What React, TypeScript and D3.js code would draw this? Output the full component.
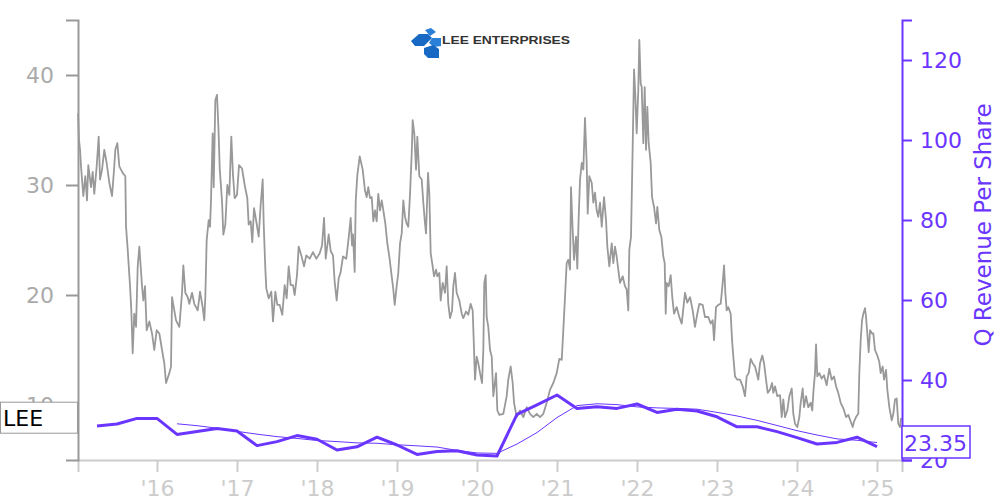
import React, { useEffect, useRef } from "react";
import * as d3 from "d3";

// Daily close (sampled) — [decimal year, price]
const priceSeries: [number, number][] = [
  [2015.013,36.5],[2015.025,34.1],[2015.038,33.2],[2015.05,31.7],[2015.079,29],[2015.104,30.8],[2015.125,28.6],[2015.141,31.8],[2015.175,29.8],[2015.196,31.2],[2015.216,29.2],[2015.246,31.7],[2015.271,34.4],[2015.288,30.5],[2015.313,31.4],[2015.341,33.2],[2015.371,32],[2015.404,30.2],[2015.438,29],[2015.466,31.7],[2015.479,33.2],[2015.504,33.8],[2015.529,31.7],[2015.571,31.1],[2015.604,30.8],[2015.613,26.2],[2015.634,24.1],[2015.663,20.8],[2015.679,18.6],[2015.696,14.7],[2015.716,18.3],[2015.738,17.1],[2015.759,22.6],[2015.779,24.4],[2015.813,20.8],[2015.829,19.5],[2015.85,20.8],[2015.871,16.8],[2015.904,17.6],[2015.938,16.5],[2015.966,15],[2015.996,16.8],
  [2016.029,16.5],[2016.063,15],[2016.091,13.8],[2016.113,12],[2016.154,12.9],[2016.175,13.5],[2016.188,19.8],[2016.216,18.6],[2016.238,17.7],[2016.279,17.1],[2016.313,20.2],[2016.329,22.7],[2016.354,20.2],[2016.384,19.8],[2016.404,19.2],[2016.438,20.2],[2016.466,19.2],[2016.509,18.6],[2016.538,20.3],[2016.571,18.9],[2016.591,17.7],[2016.604,19.8],[2016.621,25],[2016.646,26.8],[2016.663,26.2],[2016.675,28.6],[2016.696,34.7],[2016.709,29.8],[2016.729,37.7],[2016.75,38.2],[2016.769,35],[2016.784,31.5],[2016.813,28.5],[2016.829,25.5],[2016.854,26.4],[2016.879,30],[2016.904,29.1],[2016.929,34.4],[2016.95,30.9],[2016.971,28.8],
  [2017.0,29.1],[2017.025,31.8],[2017.063,31.5],[2017.096,30],[2017.129,28.8],[2017.146,26.4],[2017.171,26.7],[2017.191,24.8],[2017.213,27.9],[2017.241,26.7],[2017.271,25.3],[2017.296,28.2],[2017.321,30.5],[2017.334,26.4],[2017.354,22.4],[2017.366,20.6],[2017.396,19.7],[2017.429,20.3],[2017.45,17.6],[2017.479,20.3],[2017.504,19.1],[2017.534,19.1],[2017.566,18.2],[2017.596,20.9],[2017.621,19.7],[2017.646,22.6],[2017.671,20.9],[2017.7,20.9],[2017.721,20],[2017.75,21.8],[2017.771,24.4],[2017.804,23.6],[2017.838,22.6],[2017.866,23.6],[2017.909,23.3],[2017.95,23.9],[2017.991,23.3],
  [2018.034,23.8],[2018.063,24.5],[2018.088,27],[2018.109,23.3],[2018.146,25.5],[2018.171,24],[2018.2,23.6],[2018.221,21.2],[2018.246,19.5],[2018.271,21.5],[2018.296,22.1],[2018.325,23.5],[2018.366,23.3],[2018.396,25.2],[2018.421,27],[2018.438,24.5],[2018.45,25.5],[2018.471,22.1],[2018.484,28.5],[2018.504,30.9],[2018.534,32.6],[2018.571,31.4],[2018.6,29.5],[2018.621,28.9],[2018.641,29.8],[2018.663,28.8],[2018.684,28.9],[2018.704,26.7],[2018.725,27.7],[2018.746,26.7],[2018.766,29.2],[2018.788,27.7],[2018.809,28.6],[2018.829,27.7],[2018.854,26.5],[2018.879,24.7],[2018.904,23.5],[2018.934,21.7],[2018.954,20.5],[2018.971,19.1],[2018.996,20.8],
  [2019.016,22],[2019.038,24.7],[2019.059,25.6],[2019.079,28.6],[2019.1,27.1],[2019.121,26.5],[2019.141,26.2],[2019.163,29.2],[2019.184,32.9],[2019.196,35.9],[2019.216,34.7],[2019.238,31.4],[2019.254,34.4],[2019.279,30.8],[2019.309,30.5],[2019.329,28.4],[2019.35,26.5],[2019.363,25.6],[2019.388,31.1],[2019.404,29.2],[2019.421,23.8],[2019.446,22.6],[2019.463,21.7],[2019.488,22.3],[2019.504,21.7],[2019.529,22],[2019.546,19.5],[2019.571,21.1],[2019.6,20.2],[2019.621,22.6],[2019.641,19.2],[2019.663,17.9],[2019.688,18.6],[2019.704,20.8],[2019.725,22],[2019.746,20.2],[2019.779,19.5],[2019.809,18.3],[2019.829,17.9],[2019.863,18.5],[2019.891,18.2],[2019.921,19.2],[2019.946,18.6],[2019.963,15],[2019.975,12.3],[2019.996,14.4],
  [2020.016,13.8],[2020.038,12.9],[2020.063,12],[2020.079,15],[2020.091,21.1],[2020.109,21.8],[2020.121,18],[2020.141,17.1],[2020.163,15],[2020.184,14.4],[2020.204,10.8],[2020.238,12.9],[2020.254,9.5],[2020.279,9.1],[2020.329,9.2],[2020.371,10.8],[2020.391,12.3],[2020.421,13.5],[2020.446,12],[2020.463,10.2],[2020.496,8.9],[2020.538,9.5],[2020.579,8.9],[2020.621,9.8],[2020.663,9.2],[2020.704,8.9],[2020.746,9.2],[2020.788,8.9],[2020.829,9.2],[2020.871,10.2],[2020.913,11.4],[2020.954,12],[2020.996,12.9],
  [2021.029,14.2],[2021.059,14.1],[2021.079,16.8],[2021.1,19.8],[2021.121,22.9],[2021.141,23.2],[2021.163,22.3],[2021.175,29.8],[2021.196,25.9],[2021.213,23.2],[2021.238,25.3],[2021.254,22.4],[2021.271,27.1],[2021.288,30.5],[2021.309,32],[2021.329,31.4],[2021.35,36.1],[2021.371,32],[2021.384,27.4],[2021.404,30.8],[2021.434,30.2],[2021.454,28.4],[2021.475,29.3],[2021.496,27.7],[2021.516,27.1],[2021.538,28.4],[2021.559,26.2],[2021.588,28.9],[2021.613,26.8],[2021.629,24.4],[2021.654,22.6],[2021.684,24.7],[2021.704,22.9],[2021.725,24.4],[2021.746,23.5],[2021.766,22.3],[2021.788,21.1],[2021.821,21.7],[2021.85,20.8],[2021.871,20.5],[2021.891,18.6],[2021.904,24.1],[2021.925,25.3],[2021.946,33.5],[2021.963,40.5],[2021.979,38.1],[2021.996,34.7],
  [2022.016,38.6],[2022.029,43.2],[2022.046,39.2],[2022.059,38.9],[2022.079,33.8],[2022.096,38.9],[2022.113,33.2],[2022.129,37.1],[2022.146,33.8],[2022.171,32],[2022.188,28.9],[2022.213,28],[2022.238,26.5],[2022.254,28],[2022.279,25.9],[2022.304,25.3],[2022.329,23.5],[2022.346,22.9],[2022.359,18.3],[2022.371,21.1],[2022.396,20.8],[2022.421,21.8],[2022.441,19.8],[2022.463,18.3],[2022.496,18.9],[2022.529,18],[2022.559,17.4],[2022.6,20.2],[2022.629,19.3],[2022.663,19.8],[2022.696,18.6],[2022.725,17.1],[2022.754,18.3],[2022.779,19.2],[2022.821,19.1],[2022.85,18],[2022.891,18],[2022.921,17.4],[2022.946,17.7],[2022.963,15.9],[2022.988,18.9],
  [2023.016,19.1],[2023.046,19.2],[2023.071,21.1],[2023.088,22.7],[2023.104,20.2],[2023.121,18.6],[2023.141,18.9],[2023.171,18.3],[2023.188,15.9],[2023.204,14.4],[2023.225,12.6],[2023.254,12.3],[2023.288,12.3],[2023.321,11.7],[2023.35,10.8],[2023.371,12.6],[2023.396,12.9],[2023.421,14.2],[2023.446,13.8],[2023.475,13.5],[2023.496,12.9],[2023.516,12.3],[2023.538,13.8],[2023.566,14.5],[2023.588,13.8],[2023.613,12.3],[2023.634,11.1],[2023.663,11.4],[2023.688,12],[2023.704,11.1],[2023.725,11.7],[2023.754,10.8],[2023.788,10.9],[2023.809,8.9],[2023.829,10.5],[2023.85,8.9],[2023.879,9.5],[2023.904,10.8],[2023.934,11.5],[2023.954,9.2],[2023.975,8.3],
  [2024.004,8],[2024.029,8.9],[2024.046,10.2],[2024.071,11.5],[2024.088,9.8],[2024.113,10.8],[2024.141,9.8],[2024.171,10.2],[2024.191,9.5],[2024.204,11.1],[2024.225,12.9],[2024.238,15.5],[2024.254,12.6],[2024.279,12.9],[2024.309,12.4],[2024.338,12.7],[2024.371,11.8],[2024.404,13.3],[2024.434,12.3],[2024.463,12.6],[2024.488,11.7],[2024.516,11.1],[2024.546,10.2],[2024.579,9.7],[2024.613,8.9],[2024.641,9.1],[2024.671,8.5],[2024.696,8],[2024.713,8.5],[2024.738,8.9],[2024.766,9.2],[2024.779,12.9],[2024.796,15.9],[2024.813,17.7],[2024.829,18.3],[2024.85,18.8],[2024.863,18],[2024.879,16.5],[2024.896,14.8],[2024.913,16.8],[2024.938,16.5],[2024.954,16.5],[2024.975,15],
  [2025.004,14.5],[2025.029,13.9],[2025.046,12.9],[2025.071,13.5],[2025.088,12.3],[2025.113,13.2],[2025.129,11.4],[2025.154,9.8],[2025.184,8.6],[2025.204,9.2],[2025.225,10.5],[2025.246,10.6],[2025.266,8.3],[2025.288,8],[2025.3,8.8],
];

// Quarterly revenue per share
const revenueQuarters = [
  2015.25, 2015.5, 2015.75, 2016.0, 2016.25, 2016.5, 2016.75, 2017.0, 2017.25, 2017.5,
  2017.75, 2018.0, 2018.25, 2018.5, 2018.75, 2019.0, 2019.25, 2019.5, 2019.75, 2020.0,
  2020.25, 2020.5, 2020.75, 2021.0, 2021.25, 2021.5, 2021.75, 2022.0, 2022.25, 2022.5,
  2022.75, 2023.0, 2023.25, 2023.5, 2023.75, 2024.0, 2024.25, 2024.5, 2024.75, 2025.0,
];
const revenueValues = [
  28.5, 29.0, 30.4, 30.4, 26.4, 27.1, 27.9, 27.25, 23.6, 24.6,
  26.1, 25.2, 22.5, 23.3, 25.7, 23.75, 21.4, 22.1, 22.3, 21.25,
  21.0, 31.4, 33.8, 36.25, 32.9, 33.3, 32.9, 34.0, 31.9, 32.7,
  32.25, 30.8, 28.3, 28.3, 27.1, 25.6, 24.0, 24.4, 25.7, 23.35,
];
// Trailing four-quarter average (thin line), from 2016.25
const revenueAvgValues = [
  29.05, 28.58, 27.95, 27.16, 26.46, 25.84, 25.39, 24.88, 24.6, 24.28,
  24.18, 23.81, 23.54, 23.24, 22.39, 21.76, 21.66, 23.99, 26.86, 30.61,
  33.59, 34.06, 33.84, 33.28, 33.03, 32.88, 32.71, 31.91, 31.01, 29.91,
  28.63, 27.33, 26.25, 25.28, 24.93, 24.36,
];

const leftTicks = [10, 20, 30, 40];
const rightTicks = [20, 40, 60, 80, 100, 120];
const yearTicks = [2016, 2017, 2018, 2019, 2020, 2021, 2022, 2023, 2024, 2025];
const yearLabels = ["'16", "'17", "'18", "'19", "'20", "'21", "'22", "'23", "'24", "'25"];

const tickerLabel = "LEE";
const lastPrice = 8.8;
const lastRevenueLabel = "23.35";
const lastRevenue = 23.35;

const PURPLE = "#6a35ff";
const FONT = "DejaVu Sans, sans-serif";

export default function App() {
  const ref = useRef<SVGSVGElement | null>(null);

  useEffect(() => {
    const svg = d3.select(ref.current);
    svg.selectAll("*").remove();

    const left = 78, right = 902, top = 20, bottom = 460;
    const x = d3.scaleLinear().domain([2015.0125, 2025.3125]).range([left, right]);
    const yL = d3.scaleLinear().domain([5, 45]).range([bottom, top]);
    const yR = d3.scaleLinear().domain([20, 130]).range([bottom, top]);

    // price line
    const priceLine = d3.line<[number, number]>().x((d) => x(d[0])).y((d) => yL(d[1]));
    svg.append("path").datum(priceSeries).attr("d", priceLine).attr("fill", "none")
      .attr("stroke", "#999").attr("stroke-width", 1.8).attr("stroke-linejoin", "round");

    // revenue lines
    const revLine = d3.line<number>().x((_, i) => x(revenueQuarters[i])).y((d) => yR(d));
    const avgLine = d3.line<number>().x((_, i) => x(revenueQuarters[i + 4])).y((d) => yR(d));
    svg.append("path").datum(revenueAvgValues).attr("d", avgLine).attr("fill", "none")
      .attr("stroke", PURPLE).attr("stroke-width", 1);
    svg.append("path").datum(revenueValues).attr("d", revLine).attr("fill", "none")
      .attr("stroke", PURPLE).attr("stroke-width", 3).attr("stroke-linejoin", "round");

    // x axis
    const gx = svg.append("g").attr("transform", `translate(0,${bottom})`)
      .call(d3.axisBottom(x).tickValues(yearTicks).tickFormat((_, i) => yearLabels[i])
        .tickSize(12).tickSizeOuter(12).tickPadding(8));
    gx.select(".domain").attr("stroke", "#ccc").attr("stroke-width", 2);
    gx.selectAll(".tick line").attr("stroke", "#ccc").attr("stroke-width", 2);
    gx.selectAll(".tick text").attr("fill", "#ccc").attr("font-size", 22).attr("font-family", FONT);

    // left axis
    const gl = svg.append("g").attr("transform", `translate(${left},0)`)
      .call(d3.axisLeft(yL).tickValues(leftTicks).tickSize(12).tickSizeOuter(12).tickPadding(12));
    gl.select(".domain").attr("stroke", "#999").attr("stroke-width", 2);
    gl.selectAll(".tick line").attr("stroke", "#999").attr("stroke-width", 2);
    gl.selectAll(".tick text").attr("fill", "#aaa").attr("font-size", 22).attr("font-family", FONT);

    // right axis
    const gr = svg.append("g").attr("transform", `translate(${right},0)`)
      .call(d3.axisRight(yR).tickValues(rightTicks).tickSize(10).tickSizeOuter(10).tickPadding(8));
    gr.select(".domain").attr("stroke", PURPLE).attr("stroke-width", 2);
    gr.selectAll(".tick line").attr("stroke", PURPLE).attr("stroke-width", 2);
    gr.selectAll(".tick text").attr("fill", PURPLE).attr("font-size", 22).attr("font-family", FONT);

    svg.append("text")
      .attr("transform", `translate(983,225) rotate(-90)`)
      .attr("text-anchor", "middle").attr("dominant-baseline", "central")
      .attr("fill", PURPLE).attr("font-size", 23).attr("font-family", FONT)
      .text("Q Revenue Per Share");

    // ticker label box (last price)
    const ly = yL(lastPrice);
    svg.append("rect").attr("x", 0.5).attr("y", ly - 16).attr("width", 77).attr("height", 31)
      .attr("fill", "#fff").attr("stroke", "#999").attr("stroke-width", 1);
    svg.append("text").attr("x", 3).attr("y", ly).attr("dominant-baseline", "central")
      .attr("fill", "#000").attr("font-size", 22).attr("font-family", FONT).text(tickerLabel);

    // last revenue box
    const ry = Math.min(yR(lastRevenue), bottom - 18);
    svg.append("rect").attr("x", right).attr("y", ry - 16).attr("width", 68).attr("height", 32)
      .attr("fill", "#fff").attr("stroke", PURPLE).attr("stroke-width", 1.5);
    svg.append("text").attr("x", right + 2).attr("y", ry + 1).attr("dominant-baseline", "central")
      .attr("fill", PURPLE).attr("font-size", 22).attr("font-family", FONT).text(lastRevenueLabel);

    // logo
    const logo = svg.append("g");
    const shapes: [string, string][] = [
      ["M411,41 L419,34 L428,34 L432,38 L424,46 L415,46 Z", "#1769c4"],
      ["M425,30 L431,28 L436,32 L430,36 Z", "#2a80d6"],
      ["M432,38 L441,38 L441,46 L434,47 L429,43 Z", "#2a80d6"],
      ["M424,48 L433,45 L439,49 L439,58 L428,58 L424,54 Z", "#1769c4"],
    ];
    shapes.forEach(([p, c]) => logo.append("path").attr("d", p).attr("fill", c));
    logo.append("text").attr("x", 442).attr("y", 43.5).attr("font-size", 11.5)
      .attr("font-family", "Liberation Sans, Arial, sans-serif").attr("font-weight", 900)
      .attr("fill", "#333").attr("textLength", 128).attr("lengthAdjust", "spacingAndGlyphs")
      .text("LEE ENTERPRISES");
  }, []);

  return (
    <svg ref={ref} width={1000} height={500}
      style={{ position: "absolute", left: 0, top: 0, background: "#fff" }} />
  );
}
